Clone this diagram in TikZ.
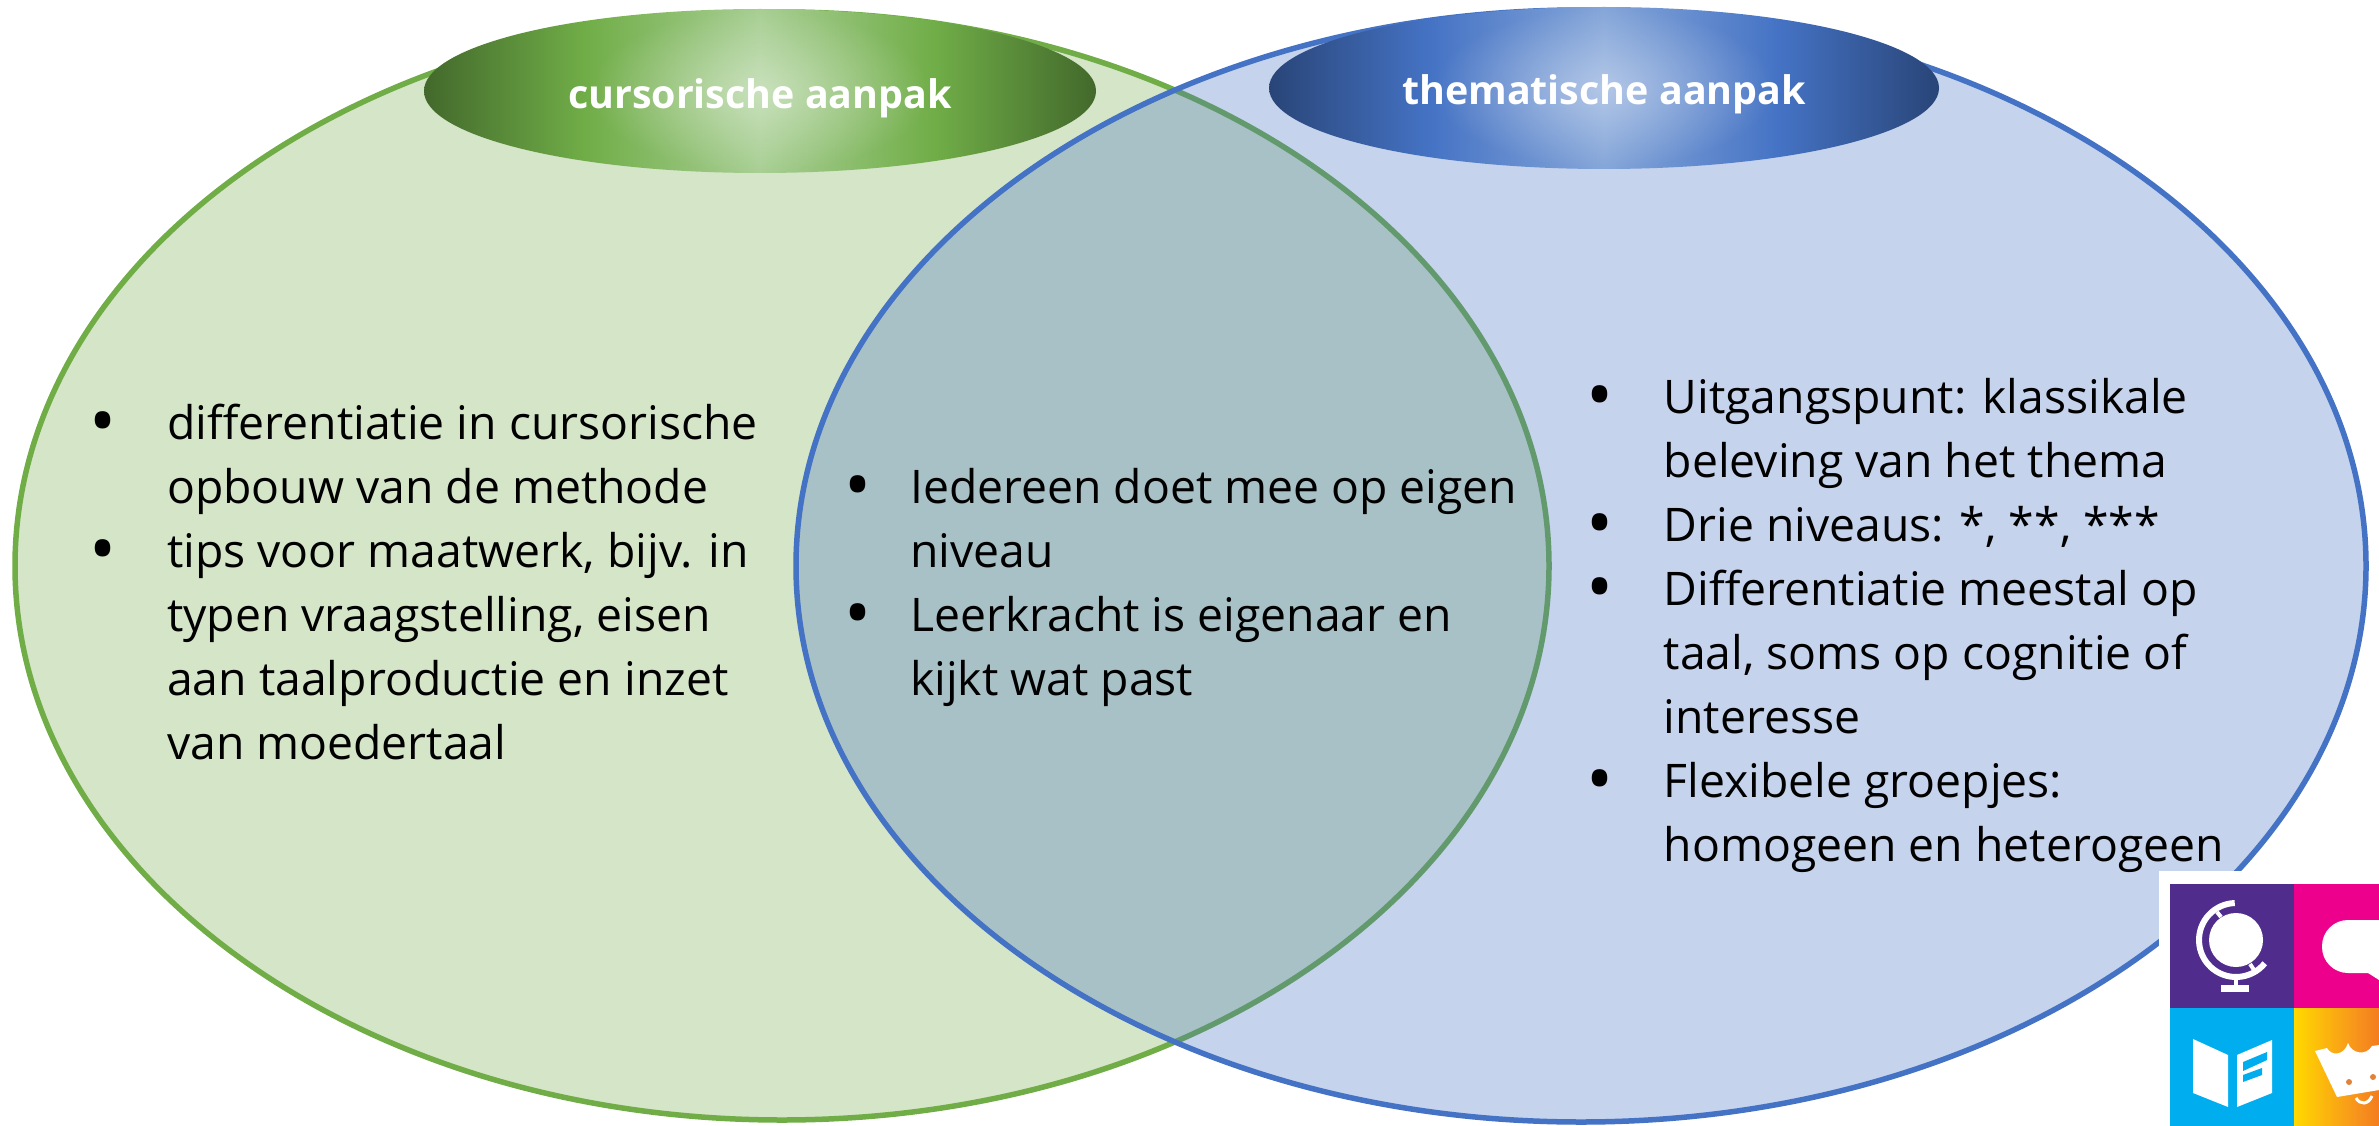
\documentclass[tikz,border=0pt]{standalone}
\usepackage{fontspec}
\setmainfont{Open Sans}
\usetikzlibrary{positioning,fadings}
\definecolor{greenline}{HTML}{70AD47}
\definecolor{blueline}{HTML}{4472C4}
\definecolor{greenfill}{HTML}{D5E5C8}
\definecolor{globepurple}{RGB}{80,45,140}
\definecolor{speechpink}{RGB}{236,0,140}
\definecolor{bookblue}{RGB}{0,174,239}
\definecolor{crownorange}{RGB}{225,130,60}
\pgfdeclarehorizontalshading{greenshade}{100bp}{rgb(0bp)=(0.26,0.41,0.17);rgb(25bp)=(0.26,0.41,0.17);rgb(37bp)=(0.44,0.68,0.28);rgb(50bp)=(0.66,0.81,0.58);rgb(63bp)=(0.44,0.68,0.28);rgb(75bp)=(0.26,0.41,0.17);rgb(100bp)=(0.26,0.41,0.17)}
\pgfdeclarehorizontalshading{blueshade}{100bp}{rgb(0bp)=(0.16,0.27,0.47);rgb(25bp)=(0.16,0.27,0.47);rgb(37bp)=(0.27,0.45,0.77);rgb(50bp)=(0.52,0.65,0.85);rgb(63bp)=(0.27,0.45,0.77);rgb(75bp)=(0.16,0.27,0.47);rgb(100bp)=(0.16,0.27,0.47)}
\pgfdeclarehorizontalshading{crownshade}{100bp}{rgb(0bp)=(1,0.85,0);rgb(25bp)=(1,0.85,0);rgb(50bp)=(0.97,0.58,0.11);rgb(75bp)=(0.93,0.33,0.13);rgb(100bp)=(0.93,0.33,0.13)}
\tikzfading[name=glow,inner color=transparent!62,outer color=transparent!100]
\tikzset{
  bullettext/.style={anchor=north west,align=left,font=\fontsize{46.3}{64}\selectfont,inner sep=0pt},
  titletext/.style={text=white,font=\fontsize{39.4}{46}\selectfont\bfseries,inner sep=0pt},
  tile/.style={anchor=north west,minimum width=124pt,minimum height=124pt,inner sep=0pt,outer sep=0pt},
}
\newcommand{\bul}{\makebox[0pt][c]{\smash{\raisebox{-7.5pt}{\scalebox{1.55}{•}}}}}
\newcommand{\bulletlist}[2]{\begin{tabular}{@{}p{#1}@{}l@{}}#2\end{tabular}}
\begin{document}
\begin{tikzpicture}[x=1pt,y=-1pt]
  % Canvas in reference pixels
  \useasboundingbox (0,0) rectangle (2379,1126);
  % The two big circles
  \fill[greenfill] (782,566) ellipse [x radius=767,y radius=554];
  \draw[greenline,line width=5.5pt] (782,566) ellipse [x radius=767,y radius=554];
  \fill[blueline,fill opacity=.31] (1581,566) ellipse [x radius=785,y radius=556];
  \draw[blueline,line width=5.5pt] (1581,566) ellipse [x radius=785,y radius=556];
  % Title ellipses
  \shade[shading=greenshade] (760,91) ellipse [x radius=336,y radius=82];
  \fill[white,path fading=glow] (760,91) ellipse [x radius=170,y radius=82];
  \shade[shading=blueshade] (1604,88) ellipse [x radius=335,y radius=81];
  \fill[white,path fading=glow] (1604,88) ellipse [x radius=170,y radius=81];
  \node[titletext] (cursorisch) at (760,98) {cursorische aanpak};
  \node[titletext] (thematisch) at (1604,94) {thematische aanpak};
  % Lists
  \node[bullettext] (left) at (103,394) {\bulletlist{64pt}{
    \bul&differentiatie in cursorische\\
    &opbouw van de methode\\
    \bul&tips voor maatwerk, bijv. in\\
    &typen vraagstelling, eisen\\
    &aan taalproductie en inzet\\
    &van moedertaal}};
  \node[bullettext] (middle) at (858,458) {\bulletlist{52pt}{
    \bul&Iedereen doet mee op eigen\\
    &niveau\\
    \bul&Leerkracht is eigenaar en\\
    &kijkt wat past}};
  \node[bullettext] (right) at (1600,368) {\bulletlist{63.5pt}{
    \bul&Uitgangspunt: klassikale\\
    &beleving van het thema\\
    \bul&Drie niveaus: *, **, ***\\
    \bul&Differentiatie meestal op\\
    &taal, soms op cognitie of\\
    &interesse\\
    \bul&Flexibele groepjes:\\
    &homogeen en heterogeen}};
  % Logo
  \fill[white] (2159,871) rectangle (2379,1126);
  \begin{scope}
    \clip (2159,871) rectangle (2379,1126);
    \node[tile,fill=globepurple] (globe) at (2170,884) {};
    \node[tile,fill=speechpink] (speech) at (2294,884) {};
    \node[tile,fill=bookblue] (book) at (2170,1008) {};
    \shade[shading=crownshade] (2294,1008) rectangle (2418,1132);
    % globe
    \fill[white] (2236,940) circle [radius=27];
    \draw[white,line width=6pt] (2236,940) ++(268:37) arc [start angle=268,end angle=39,radius=37];
    \draw[white,line width=4pt] (2217,912) -- (2221,917);
    \draw[white,line width=4pt] (2250,964) -- (2254,970);
    \fill[white] (2234,976) rectangle (2238,986);
    \fill[white] (2221,985) rectangle (2249,992);
    % speech bubble
    \fill[white,rounded corners=26pt] (2322,920) rectangle (2430,973);
    \fill[white] (2360,968) -- (2368,973) -- (2379,980) -- (2379,968) -- cycle;
    % book
    \fill[white] (2193,1039) -- (2228,1055) -- (2228,1107) -- (2193,1093) -- cycle;
    \fill[white] (2237,1055) -- (2272,1040) -- (2272,1093) -- (2237,1107) -- cycle;
    \fill[bookblue] (2243,1062) -- (2267,1052) -- (2267,1060) -- (2243,1071) -- cycle;
    \fill[bookblue] (2243,1075) -- (2262,1068) -- (2262,1075) -- (2243,1082) -- cycle;
    % crown
    \fill[white] (2315,1051) -- (2327,1048) .. controls (2331,1056) and (2344,1056) .. (2348,1043)
      .. controls (2352,1054) and (2366,1056) .. (2372,1046) -- (2379,1045) -- (2379,1090) -- (2337,1097) -- cycle;
    \fill[crownorange] (2349,1082) circle [radius=3];
    \fill[crownorange] (2373,1077) circle [radius=3];
    \draw[white,line width=3pt] (2356,1098) .. controls (2360,1105) and (2368,1105) .. (2372,1096);
  \end{scope}
\end{tikzpicture}
\end{document}
